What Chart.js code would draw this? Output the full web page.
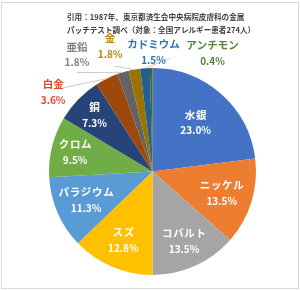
<!DOCTYPE html>
<html>
<head>
<meta charset="utf-8">
<script src="https://cdn.jsdelivr.net/npm/chart.js@4.4.0/dist/chart.umd.min.js"></script>
<style>
  body { margin: 0; background: #fff; }
  canvas { display: block; }
</style>
</head>
<body>
<canvas id="pie" width="300" height="290"></canvas>
<script>
// data
const metals = ['水銀', 'ニッケル', 'コバルト', 'スズ', 'パラジウム', 'クロム', '銅', '白金', '亜鉛', '金', 'カドミウム', 'アンチモン'];
const percents = [23.0, 13.5, 13.5, 12.8, 11.3, 9.5, 7.3, 3.6, 1.8, 1.8, 1.5, 0.4];
const titleLines = ['引用：1987年、東京都済生会中央病院皮膚科の金属', 'パッチテスト調べ（対象：全国アレルギー患者274人）'];

// styles
const sliceColors = ['#4472c4', '#ed7d31', '#a5a5a5', '#ffc000', '#5b9bd5', '#70ad47',
                     '#264478', '#9e480e', '#636363', '#997300', '#255e91', '#43682b'];
const outsideColors = { '白金': '#e0482a', '亜鉛': '#7f7f7f', '金': '#b8860b', 'カドミウム': '#2e75b6', 'アンチモン': '#548235' };
const FONT = '"Noto Sans CJK JP", "Noto Sans", sans-serif';

// label layout: inside labels sit at a fraction of the radius,
// outside ones at an offset (in radius units) from the pie centre
const insideRadius = [0.63, 0.70, 0.74, 0.72, 0.70, 0.77, 0.78];
const outsideOffsets = {
    '白金':     { dx: -0.96, dy: -0.77, line: [10, -4] },
    '亜鉛':     { dx: -0.73, dy: -1.13, line: [0, 18] },
    '金':       { dx: -0.41, dy: -1.21, line: [5, 20] },
    'カドミウム': { dx: 0.01, dy: -1.15, line: [16, 6] },
    'アンチモン': { dx: 0.58, dy: -1.14, line: null }
};

const labelPlugin = {
    id: 'labels',
    afterDraw(chart) {
        const ctx = chart.ctx;
        const arcs = chart.getDatasetMeta(0).data;

        ctx.save();
        // frame
        ctx.strokeStyle = '#d9d9d9';
        ctx.lineWidth = 1;
        ctx.strokeRect(1.5, 2.5, 297, 286);

        // title
        ctx.fillStyle = '#404040';
        ctx.font = 'bold 7.6px ' + FONT;
        ctx.textAlign = 'left';
        ctx.textBaseline = 'middle';
        ctx.fillText(titleLines[0], 67, 17);
        ctx.fillText(titleLines[1], 67, 30);

        ctx.textAlign = 'center';
        arcs.forEach((arc, i) => {
            const p = arc.getProps(['x', 'y', 'startAngle', 'endAngle', 'outerRadius']);
            const mid = (p.startAngle + p.endAngle) / 2;
            const name = metals[i];
            const pct = percents[i].toFixed(1) + '%';
            const out = outsideOffsets[name];
            if (!out) {
                const r = p.outerRadius * insideRadius[i];
                const lx = p.x + Math.cos(mid) * r;
                const ly = p.y + Math.sin(mid) * r;
                ctx.fillStyle = '#ffffff';
                ctx.font = 'bold 10.5px ' + FONT;
                ctx.fillText(name.split('').join(String.fromCharCode(8202)), lx, ly - 8);
                ctx.font = 'bold 10px ' + FONT;
                ctx.fillText(pct, lx, ly + 8);
            } else {
                const lx = p.x + out.dx * p.outerRadius;
                const ly = p.y + out.dy * p.outerRadius;
                if (out.line) {
                    ctx.strokeStyle = '#c8c8c8';
                    ctx.lineWidth = 1;
                    ctx.beginPath();
                    ctx.moveTo(lx + out.line[0], ly + out.line[1]);
                    ctx.lineTo(p.x + Math.cos(mid) * p.outerRadius, p.y + Math.sin(mid) * p.outerRadius);
                    ctx.stroke();
                }
                ctx.fillStyle = outsideColors[name];
                ctx.font = 'bold 10.5px ' + FONT;
                ctx.fillText(name, lx, ly - 8);
                ctx.font = 'bold 10px ' + FONT;
                ctx.fillText(pct, lx, ly + 8);
            }
        });
        ctx.restore();
    }
};

new Chart(document.getElementById('pie'), {
    type: 'pie',
    data: {
        labels: metals,
        datasets: [{
            data: percents,
            backgroundColor: sliceColors,
            borderWidth: 0
        }]
    },
    options: {
        responsive: false,
        animation: false,
        layout: { padding: { left: 49, right: 44, top: 68, bottom: 15 } },
        plugins: {
            legend: { display: false },
            tooltip: { enabled: false }
        }
    },
    plugins: [labelPlugin]
});
</script>
</body>
</html>
